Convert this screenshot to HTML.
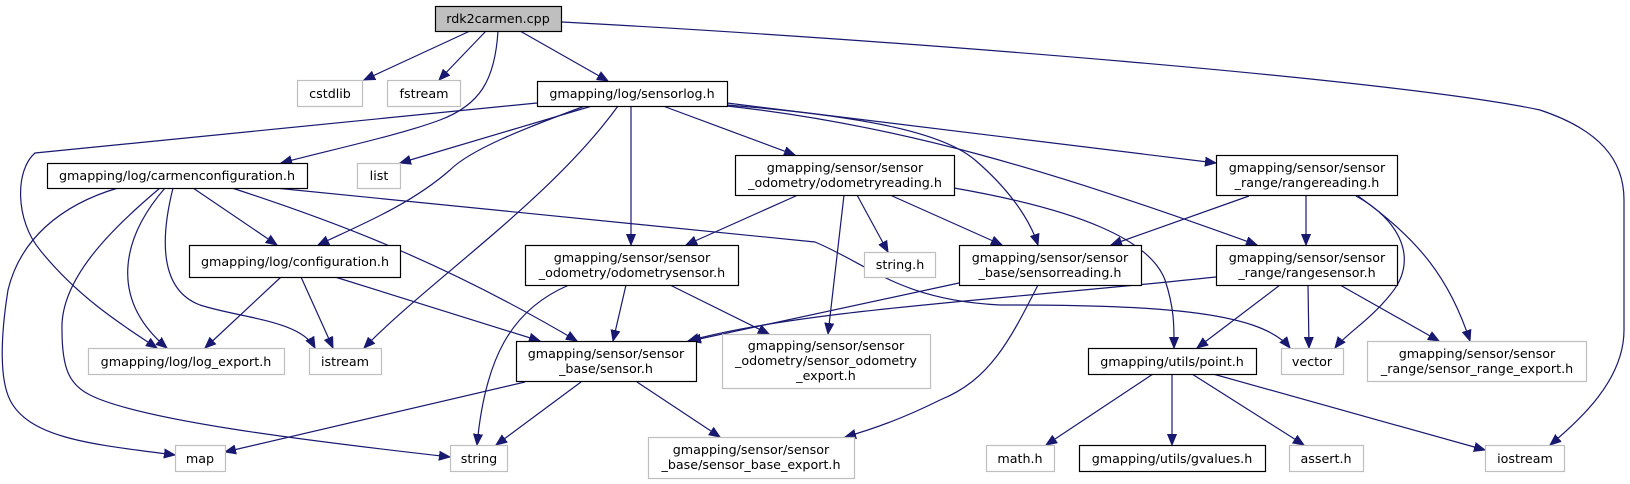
<!DOCTYPE html>
<html><head><meta charset="utf-8"><style>
html,body{margin:0;padding:0;background:#fff;}
svg{display:block;}
text{font-family:"DejaVu Sans","Liberation Sans",sans-serif;font-size:12.7px;fill:#000;text-anchor:middle;}
.e{fill:none;stroke:#191970;stroke-width:1.2;marker-end:url(#a);}
.g{fill:#fff;stroke:#bfbfbf;stroke-width:1.2;}
.b{fill:#fff;stroke:#000;stroke-width:1.2;}
</style></head><body>
<svg width="1630" height="484" viewBox="0 0 1630 484" xmlns="http://www.w3.org/2000/svg">
<defs><marker id="a" markerUnits="userSpaceOnUse" markerWidth="12" markerHeight="10" refX="11" refY="5" orient="auto"><path d="M0,0.5 L11,5 L0,9.5 z" fill="#191970" stroke="#191970"/></marker></defs>
<g>
<path class="e" d="M470,31 L364,80"/>
<path class="e" d="M486,31 L439,80"/>
<path class="e" d="M498,31 C495,80 480,105 440,120 C400,135 330,150 281,163"/>
<path class="e" d="M520,31 L608,81"/>
<path class="e" d="M562,22 C900,40 1400,80 1540,110 C1600,130 1624,160 1624,200 L1624,330 C1624,380 1580,420 1550,445"/>
<path class="e" d="M537,103 L35,153 C15,170 15,220 40,250 C80,300 130,330 157,348"/>
<path class="e" d="M118,188 C60,205 20,240 8,290 C0,340 0,380 10,400 C30,440 100,445 175,455"/>
<path class="e" d="M160,188 C110,230 60,280 62,330 C62,370 70,385 90,395 C140,420 300,440 450,457"/>
<path class="e" d="M165,188 C120,240 110,300 167,348"/>
<path class="e" d="M173,188 C160,240 160,290 200,305 C240,318 300,320 315,348"/>
<path class="e" d="M193,188 L277,245"/>
<path class="e" d="M232,188 C330,220 440,260 577,341"/>
<path class="e" d="M275,188 L815,242 C870,265 900,300 1000,305 C1150,305 1260,310 1290,348"/>
<path class="e" d="M592,106 L400,163"/>
<path class="e" d="M585,106 C520,130 470,150 450,170 C410,205 360,225 318,245"/>
<path class="e" d="M618,106 C550,200 430,280 364,348"/>
<path class="e" d="M631,106 L631,245"/>
<path class="e" d="M663,106 L795,155"/>
<path class="e" d="M727,103 L1216,163"/>
<path class="e" d="M727,105 C850,115 940,130 975,160 C1010,190 1030,220 1038,245"/>
<path class="e" d="M727,106 C900,125 1050,170 1257,245"/>
<path class="e" d="M844,195 L828,334"/>
<path class="e" d="M857,195 L888,252"/>
<path class="e" d="M890,195 L1002,245"/>
<path class="e" d="M954,188 C1080,210 1150,240 1165,280 C1175,310 1174,330 1174,348"/>
<path class="e" d="M798,195 L686,245"/>
<path class="e" d="M1249,196 L1111,245"/>
<path class="e" d="M1306,196 L1306,245"/>
<path class="e" d="M1356,196 C1400,220 1420,260 1390,295 C1370,320 1345,335 1335,348"/>
<path class="e" d="M1358,196 C1420,240 1450,280 1470,341"/>
<path class="e" d="M1216,277 C1000,300 800,310 688,341"/>
<path class="e" d="M959,283 L690,341"/>
<path class="e" d="M1280,285 L1197,348"/>
<path class="e" d="M1308,285 L1309,348"/>
<path class="e" d="M1340,285 L1439,341"/>
<path class="e" d="M1038,285 C1010,340 990,380 940,400 C900,420 870,430 845,437"/>
<path class="e" d="M1153,374 L1046,445"/>
<path class="e" d="M1172,374 L1172,445"/>
<path class="e" d="M1192,374 L1304,445"/>
<path class="e" d="M1213,374 L1485,450"/>
<path class="e" d="M569,285 C510,310 485,360 477,445"/>
<path class="e" d="M626,285 L613,341"/>
<path class="e" d="M670,285 L769,334"/>
<path class="e" d="M281,277 L205,348"/>
<path class="e" d="M301,277 L333,348"/>
<path class="e" d="M335,277 L540,341"/>
<path class="e" d="M525,382 L225,452"/>
<path class="e" d="M581,382 L496,445"/>
<path class="e" d="M637,382 L720,437"/>
</g>
<g>
<rect x="435.5" y="6.5" width="126" height="25" fill="#bfbfbf" stroke="#000" stroke-width="1.2"/><text x="498" y="23">rdk2carmen.cpp</text>
<rect class="g" x="297.5" y="80.5" width="65" height="26"/><text x="330" y="98">cstdlib</text>
<rect class="g" x="387.5" y="80.5" width="73" height="26"/><text x="424" y="98">fstream</text>
<rect class="b" x="537.5" y="81.5" width="190" height="25"/><text x="632" y="98">gmapping/log/sensorlog.h</text>
<rect class="b" x="47.5" y="163.5" width="260" height="25"/><text x="177" y="180">gmapping/log/carmenconfiguration.h</text>
<rect class="g" x="357.5" y="163.5" width="43" height="25"/><text x="379" y="180">list</text>
<rect class="b" x="735.5" y="155.5" width="219" height="40"/><text x="845" y="172">gmapping/sensor/sensor</text><text x="845" y="187">_odometry/odometryreading.h</text>
<rect class="b" x="1216.5" y="155.5" width="181" height="40"/><text x="1307" y="172">gmapping/sensor/sensor</text><text x="1307" y="187">_range/rangereading.h</text>
<rect class="b" x="189.5" y="245.5" width="211" height="32"/><text x="295" y="266">gmapping/log/configuration.h</text>
<rect class="b" x="525.5" y="245.5" width="213" height="40"/><text x="632" y="262">gmapping/sensor/sensor</text><text x="632" y="277">_odometry/odometrysensor.h</text>
<rect class="g" x="864.5" y="252.5" width="71" height="25"/><text x="900" y="269">string.h</text>
<rect class="b" x="959.5" y="245.5" width="182" height="40"/><text x="1050" y="262">gmapping/sensor/sensor</text><text x="1050" y="277">_base/sensorreading.h</text>
<rect class="b" x="1216.5" y="245.5" width="181" height="40"/><text x="1307" y="262">gmapping/sensor/sensor</text><text x="1307" y="277">_range/rangesensor.h</text>
<rect class="g" x="88.5" y="348.5" width="196" height="26"/><text x="186" y="366">gmapping/log/log_export.h</text>
<rect class="g" x="309.5" y="348.5" width="72" height="26"/><text x="345" y="366">istream</text>
<rect class="b" x="516.5" y="341.5" width="180" height="40"/><text x="606" y="358">gmapping/sensor/sensor</text><text x="606" y="373">_base/sensor.h</text>
<rect class="g" x="722.5" y="334.5" width="208" height="54"/><text x="826" y="350">gmapping/sensor/sensor</text><text x="826" y="365">_odometry/sensor_odometry</text><text x="826" y="380">_export.h</text>
<rect class="b" x="1088.5" y="348.5" width="168" height="26"/><text x="1172" y="366">gmapping/utils/point.h</text>
<rect class="g" x="1281.5" y="348.5" width="62" height="26"/><text x="1312" y="366">vector</text>
<rect class="g" x="1367.5" y="341.5" width="219" height="40"/><text x="1477" y="358">gmapping/sensor/sensor</text><text x="1477" y="373">_range/sensor_range_export.h</text>
<rect class="g" x="175.5" y="445.5" width="50" height="26"/><text x="200" y="463">map</text>
<rect class="g" x="450.5" y="445.5" width="57" height="26"/><text x="479" y="463">string</text>
<rect class="g" x="648.5" y="437.5" width="206" height="41"/><text x="751" y="454">gmapping/sensor/sensor</text><text x="751" y="469">_base/sensor_base_export.h</text>
<rect class="g" x="986.5" y="445.5" width="68" height="26"/><text x="1020" y="463">math.h</text>
<rect class="b" x="1079.5" y="445.5" width="186" height="26"/><text x="1172" y="463">gmapping/utils/gvalues.h</text>
<rect class="g" x="1289.5" y="445.5" width="74" height="26"/><text x="1326" y="463">assert.h</text>
<rect class="g" x="1485.5" y="445.5" width="79" height="26"/><text x="1525" y="463">iostream</text>
</g>
</svg>
</body></html>
